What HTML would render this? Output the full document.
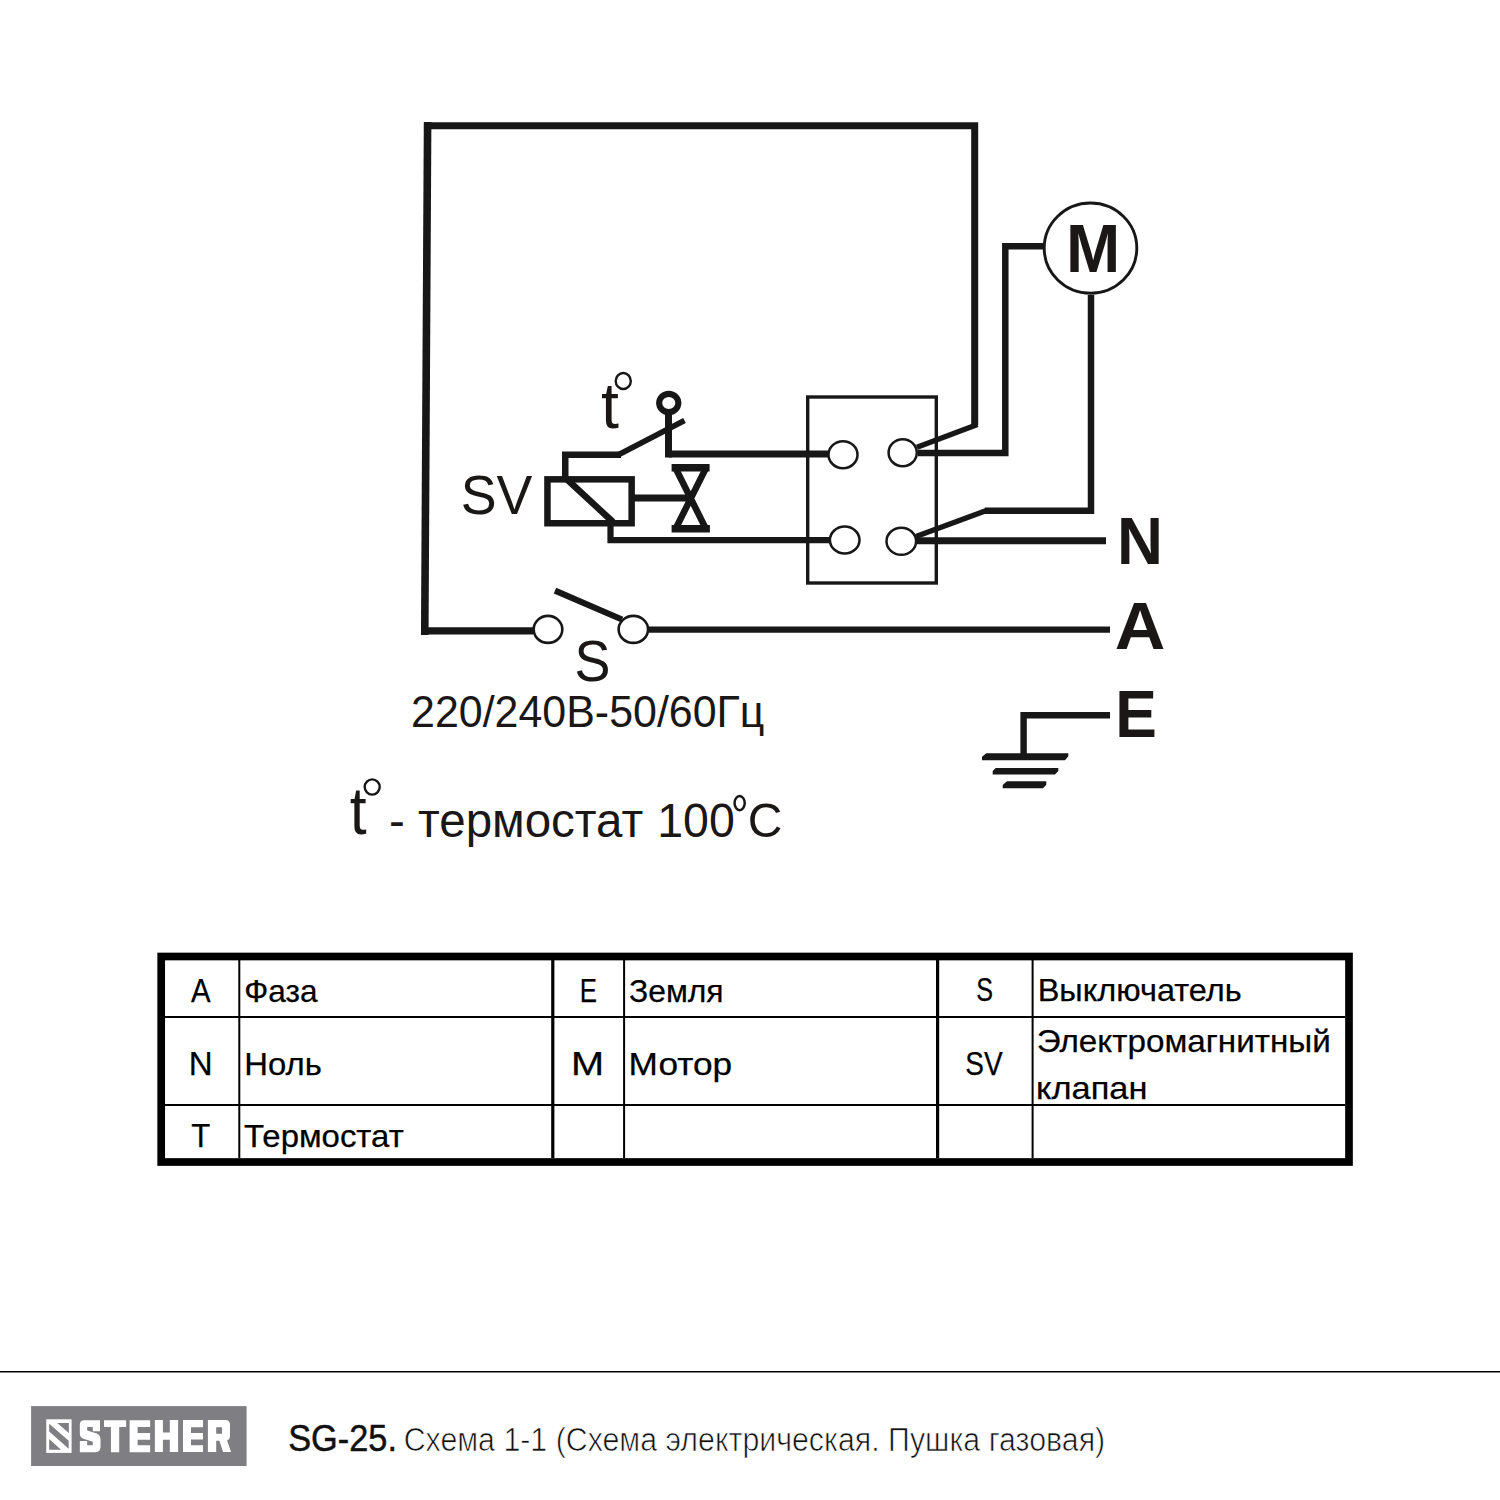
<!DOCTYPE html>
<html><head><meta charset="utf-8">
<style>
html,body{margin:0;padding:0;background:#fff;width:1500px;height:1500px;overflow:hidden;}
svg{position:absolute;left:0;top:0;}
text{font-family:"Liberation Sans",sans-serif;}
</style></head>
<body>
<svg width="1500" height="1500" viewBox="0 0 1500 1500">
<g fill="none" stroke="#171717" stroke-linecap="butt" stroke-linejoin="miter">
  <!-- main frame -->
  <path d="M427.6,125.8 H974.7 V425" stroke-width="7"/>
  <path d="M977.5,424.5 L917,447.3" stroke-width="5.4"/>
  <path d="M427.6,122 L424.75,635" stroke-width="7.6"/>
  <path d="M421,630.9 H533" stroke-width="7.4"/>
  <!-- switch S -->
  <ellipse cx="548" cy="629.4" rx="14.3" ry="13.5" stroke-width="2.6"/>
  <ellipse cx="633.35" cy="629.4" rx="14.7" ry="13.5" stroke-width="2.6"/>
  <path d="M555,590.7 L622,619.5" stroke-width="6.2"/>
  <path d="M649,629.6 H1110" stroke-width="6.4"/>
  <!-- terminal box -->
  <rect x="807.7" y="397" width="128.6" height="186" stroke-width="3.4"/>
  <ellipse cx="843" cy="454.7" rx="14.5" ry="13.5" stroke-width="2.5"/>
  <ellipse cx="902.7" cy="452.7" rx="14.1" ry="13.5" stroke-width="2.5"/>
  <ellipse cx="844.7" cy="540" rx="14.8" ry="13.5" stroke-width="2.5"/>
  <ellipse cx="901.3" cy="541.3" rx="14.8" ry="13.5" stroke-width="2.5"/>
  <!-- wires right -->
  <path d="M918,453 H1005.3 V246.3 H1043" stroke-width="6.5"/>
  <ellipse cx="1090.5" cy="248.1" rx="46.3" ry="45.1" stroke-width="2.9"/>
  <path d="M1091,295 V510.8 H984.8" stroke-width="6.5"/>
  <path d="M986.5,510.5 L916,536.5" stroke-width="5.4"/>
  <path d="M917,540.7 H1106" stroke-width="7"/>
  <!-- wires left -->
  <path d="M668.5,454 H828" stroke-width="7"/>
  <path d="M610.5,523 V540.2 H830" stroke-width="6.2"/>
  <!-- solenoid -->
  <rect x="547.45" y="479.35" width="84.2" height="43.9" stroke-width="6.5"/>
  <path d="M565.5,478 L613,522" stroke-width="6.5"/>
  <path d="M565.25,480 V454.75 H621" stroke-width="6.5"/>
  <path d="M617,455.5 L684.5,420.5" stroke-width="5.8"/>
  <path d="M668.5,413 V457.5" stroke-width="7"/>
  <ellipse cx="668.75" cy="403" rx="9.6" ry="9.1" stroke-width="6.1"/>
  <path d="M631.6,498 H688" stroke-width="6.9"/>
  <!-- valve -->
  <path d="M671.6,467.85 H709.6 M671.6,528.8 H709.9" stroke-width="7.5"/>
  <path d="M675.5,468 L706,529 M706,468 L675.5,529" stroke-width="6.5"/>
  <!-- ground -->
  <path d="M1110,715.2 H1023.6 V756" stroke-width="6.4"/>
  <path d="M986.3,753.3 H1068.3 V756.3 L1065,760.2 H982 V756.8 Z M995.7,767.9 H1058.3 V771 L1055,774.4 H992.7 V771 Z M1007,781.3 H1046.3 V784.8 L1043,788.2 H1002.7 V785 Z" fill="#171717" stroke="none"/>
  <!-- degree marks -->
  <ellipse cx="623.25" cy="381" rx="7.55" ry="8.05" stroke-width="2.4"/>
  <ellipse cx="372.2" cy="787" rx="7.5" ry="7.65" stroke-width="2.4"/>
  <ellipse cx="739.65" cy="803.1" rx="5.1" ry="7.05" stroke-width="2.5"/>
</g>
<g fill="#1a1716">
  <text x="1066.05" y="272.1" font-size="68.8" font-weight="bold" textLength="54.21" lengthAdjust="spacingAndGlyphs">M</text>
  <text x="1116.94" y="564" font-size="67.5" font-weight="bold" textLength="45.94" lengthAdjust="spacingAndGlyphs">N</text>
  <text x="1114.86" y="649.4" font-size="67.5" font-weight="bold" textLength="50.59" lengthAdjust="spacingAndGlyphs">A</text>
  <text x="1115.23" y="736.6" font-size="67.5" font-weight="bold" textLength="41.61" lengthAdjust="spacingAndGlyphs">E</text>
  <text x="460.66" y="514.3" font-size="55.8" textLength="71.68" lengthAdjust="spacingAndGlyphs">SV</text>
  <text x="601.02" y="428" font-size="65" textLength="17.95" lengthAdjust="spacingAndGlyphs">t</text>
  <text x="574.55" y="681.4" font-size="56.5" textLength="35.92" lengthAdjust="spacingAndGlyphs">S</text>
  <text x="411.04" y="727.2" font-size="43.5" textLength="353.44" lengthAdjust="spacingAndGlyphs">220/240В-50/60Гц</text>
  <text x="349.83" y="834.2" font-size="66" textLength="16.86" lengthAdjust="spacingAndGlyphs">t</text>
  <text x="389.01" y="836.8" font-size="47.5" textLength="254.2" lengthAdjust="spacingAndGlyphs">- термостат</text>
  <text x="657.26" y="836.8" font-size="48" textLength="77.56" lengthAdjust="spacingAndGlyphs">100</text>
  <text x="747.66" y="837.2" font-size="48.5" textLength="34.67" lengthAdjust="spacingAndGlyphs">C</text>
</g>
<!-- table -->
<g fill="none" stroke="#000">
  <rect x="161.2" y="956.5" width="1187.8" height="205.5" stroke-width="7.7"/>
  <path d="M165,1017.1 H1345 M165,1105 H1345" stroke-width="2"/>
  <path d="M239.3,960 V1158 M624.1,960 V1158 M1032.6,960 V1158" stroke-width="2"/>
  <path d="M552.8,960 V1158 M937.6,960 V1158" stroke-width="3.2"/>
</g>
<g fill="#000" stroke="#000" stroke-width="0.25">
  <text x="190.94" y="1001.5" font-size="32.5" textLength="19.61" lengthAdjust="spacingAndGlyphs">A</text>
  <text x="244.19" y="1001.5" font-size="31.3" textLength="73.31" lengthAdjust="spacingAndGlyphs">Фаза</text>
  <text x="579.78" y="1001.5" font-size="32.5" textLength="17.23" lengthAdjust="spacingAndGlyphs">E</text>
  <text x="629.06" y="1001.5" font-size="31.3" textLength="94.55" lengthAdjust="spacingAndGlyphs">Земля</text>
  <text x="976.26" y="1001.3" font-size="32.5" textLength="16.8" lengthAdjust="spacingAndGlyphs">S</text>
  <text x="1037.66" y="1001.3" font-size="31.3" textLength="204.15" lengthAdjust="spacingAndGlyphs">Выключатель</text>
  <text x="188.78" y="1075" font-size="32.5" textLength="23.92" lengthAdjust="spacingAndGlyphs">N</text>
  <text x="244.33" y="1075" font-size="31.3" textLength="77.5" lengthAdjust="spacingAndGlyphs">Ноль</text>
  <text x="571.04" y="1075" font-size="32.5" textLength="33.12" lengthAdjust="spacingAndGlyphs">M</text>
  <text x="628.63" y="1075" font-size="31.3" textLength="103.54" lengthAdjust="spacingAndGlyphs">Мотор</text>
  <text x="965.23" y="1074.6" font-size="32.5" textLength="37.4" lengthAdjust="spacingAndGlyphs">SV</text>
  <text x="1036.7" y="1052.3" font-size="31.3" textLength="294.1" lengthAdjust="spacingAndGlyphs">Электромагнитный</text>
  <text x="1036.08" y="1098.5" font-size="31.3" textLength="111.32" lengthAdjust="spacingAndGlyphs">клапан</text>
  <text x="191.3" y="1147" font-size="32.5" textLength="19.01" lengthAdjust="spacingAndGlyphs">T</text>
  <text x="244.07" y="1147" font-size="31.3" textLength="159.68" lengthAdjust="spacingAndGlyphs">Термостат</text>
</g>
<!-- footer -->
<path d="M0,1371.7 H1500" stroke="#000" stroke-width="1.6"/>
<rect x="31.1" y="1406.1" width="215.5" height="59.9" fill="#7f7e83"/>
<rect x="46.25" y="1419.3" width="25.35" height="33.6" fill="#fff"/>
<g fill="#7f7e83">
  <path d="M57.26,1423.1 H68.85 V1432.9 Z"/>
  <path d="M49.19,1423.8 V1431.6 L68.7,1448.8 V1440.8 Z"/>
  <path d="M49.19,1438.9 V1449.8 H61.07 Z"/>
</g>
<g fill="#fff">
  <path d="M84,1420.13 H100 V1431.33 H92.8 V1427.07 H87.2 V1430.53 L96.8,1433.47 Q100.53,1435.07 100.53,1439.6 V1447.07 Q100.53,1452.13 95.5,1452.13 H79.84 V1440.93 H87.2 V1445.2 H92.8 V1441.73 L83.5,1438.8 Q79.84,1437.47 79.84,1433.47 V1424.67 Q79.84,1420.13 84,1420.13 Z"/>
  <path d="M104,1420.13 H126.13 V1427.07 H119.2 V1452.13 H110.93 V1427.07 H104 Z"/>
  <path d="M129.6,1420.13 H150.13 V1427.07 H137.6 V1432.93 H150.13 V1439.87 H137.6 V1445.2 H150.13 V1452.13 H129.6 Z"/>
  <path d="M154.87,1420 H162.9 V1432.6 H169.8 V1420 H178.1 V1452 H169.8 V1439.8 H162.9 V1452 H154.87 Z"/>
  <path d="M183,1420 H203 V1427.2 H191 V1432.9 H203 V1439.5 H191 V1445.2 H203 V1452 H183 Z"/>
  <path d="M207.9,1420 H225.4 Q230,1420 230,1424.9 V1436.4 Q230,1439 227.1,1440.4 L231.1,1452 H223.1 L219.4,1440.7 H216.2 V1452 H207.9 Z M216.2,1427.2 V1433.8 H222 V1427.2 Z" fill-rule="evenodd"/>
</g>
<g fill="#111">
  <text x="288.24" y="1450.7" font-size="37.5" textLength="108.69" lengthAdjust="spacingAndGlyphs" stroke="#111" stroke-width="0.5">SG-25.</text>
  <text x="403.66" y="1451" font-size="33.5" textLength="701.51" lengthAdjust="spacingAndGlyphs" stroke="#fff" stroke-width="0.7">Схема 1-1 (Схема электрическая. Пушка газовая)</text>
</g>
</svg>
</body></html>
